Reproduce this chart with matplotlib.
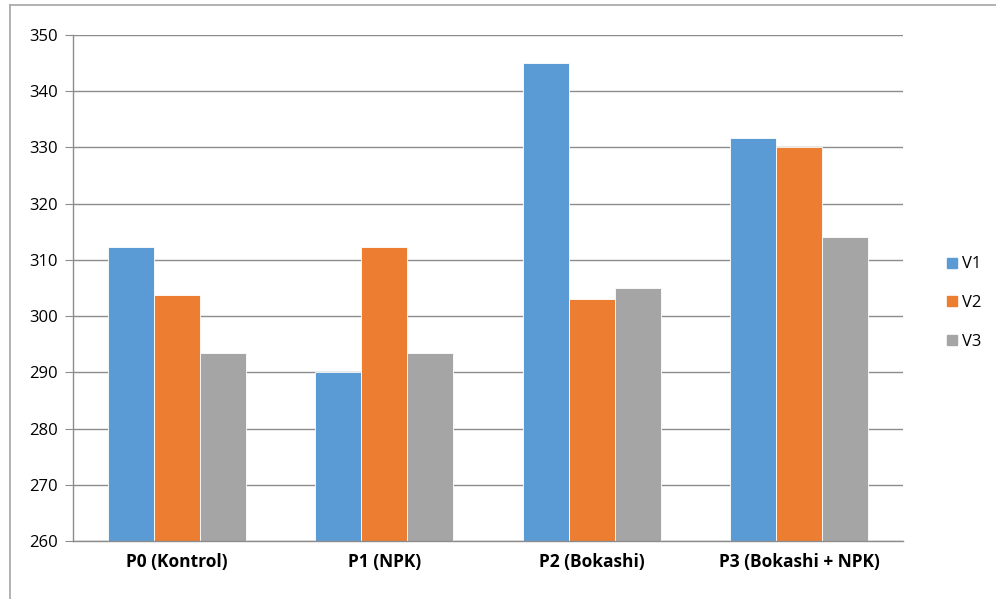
import numpy as np
import matplotlib.pyplot as plt
from matplotlib.lines import Line2D

plt.rcParams['font.family'] = ['Open Sans', 'DejaVu Sans']

# ------------------- Data -------------------
categories = ['P0 (Kontrol)', 'P1 (NPK)', 'P2 (Bokashi)', 'P3 (Bokashi + NPK)']
v1 = [312.3, 290.1, 345.0, 331.7]
v2 = [303.7, 312.3, 303.0, 330.1]
v3 = [293.4, 293.4, 305.0, 314.0]
series = {'V1': v1, 'V2': v2, 'V3': v3}
colors = ['#5B9BD5', '#ED7D31', '#A5A5A5']

# ------------------- Figure -------------------
W, H = 996, 599
fig = plt.figure(figsize=(W / 100, H / 100), dpi=100)
ax = fig.add_axes([73 / W, 1 - 541 / H, (903 - 73) / W, (541 - 35) / H])

x = np.arange(len(categories))
width = 0.222
for i, (name, vals) in enumerate(series.items()):
    ax.bar(x + (i - 1) * width, np.array(vals) - 260, width, bottom=260,
           color=colors[i], edgecolor='white', linewidth=0.6, label=name, zorder=3)

ax.set_xlim(-0.5, len(categories) - 0.5)
ax.set_ylim(260, 350)
ax.set_yticks(np.arange(260, 351, 10))
ax.yaxis.grid(True, color='#8C8C8C', linewidth=1.0, zorder=0)
ax.set_axisbelow(True)
for s in ['top', 'right']:
    ax.spines[s].set_visible(False)
for s in ['left', 'bottom']:
    ax.spines[s].set_color('#8C8C8C')
    ax.spines[s].set_linewidth(1.0)
    ax.spines[s].set_zorder(4)
ax.tick_params(axis='y', length=6, color='#8C8C8C', labelsize=12, pad=5)
ax.tick_params(axis='x', length=0, labelsize=12.5, pad=9)
ax.set_xticks(x)
ax.set_xticklabels(categories, fontweight='bold')

# legend on the right
handles = [Line2D([0], [0], marker='s', linestyle='', markersize=7.5,
                  markerfacecolor=c, markeredgecolor=c) for c in colors]
fig.legend(handles, list(series.keys()), loc='center left',
           bbox_to_anchor=(927 / W, 1 - 303 / H), frameon=False,
           fontsize=12, handletextpad=0.0, labelspacing=1.35, handlelength=1.2)

# chart border
fig.add_artist(Line2D([10 / W, 10 / W], [0, 1 - 5 / H], transform=fig.transFigure,
                      color='#A6A6A6', linewidth=1.2))
fig.add_artist(Line2D([10 / W, 1], [1 - 5 / H, 1 - 5 / H], transform=fig.transFigure,
                      color='#A6A6A6', linewidth=1.2))

fig.savefig('out.png', dpi=100)
